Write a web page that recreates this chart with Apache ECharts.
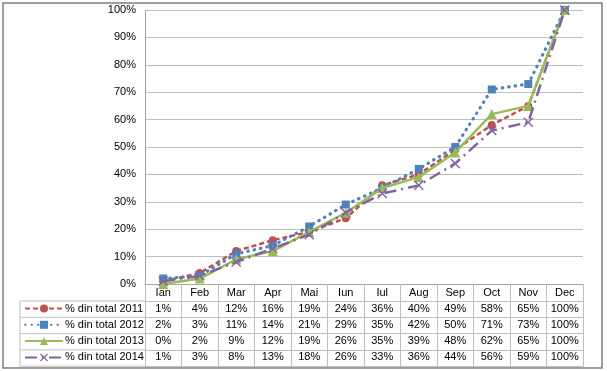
<!DOCTYPE html>
<html><head><meta charset="utf-8">
<script src="https://cdn.jsdelivr.net/npm/echarts@6/dist/echarts.min.js"></script>
<style>html,body{margin:0;padding:0;background:#fff}#c{width:607px;height:371px}</style>
</head><body><div id="c"></div>
<script>
var months = ['Ian','Feb','Mar','Apr','Mai','Iun','Iul','Aug','Sep','Oct','Nov','Dec'];
var names = ['% din total 2011','% din total 2012','% din total 2013','% din total 2014'];
var s2011 = [1,4,12,16,19,24,36,40,49,58,65,100];
var s2012 = [2,3,11,14,21,29,35,42,50,71,73,100];
var s2013 = [0,2,9,12,19,26,35,39,48,62,65,100];
var s2014 = [1,3,8,13,18,26,33,36,44,56,59,100];
var yTicks = [0,10,20,30,40,50,60,70,80,90,100];

var allData = [s2011,s2012,s2013,s2014];
var colors = ['#C0504D','#4F81BD','#9BBB59','#8064A2'];
var lineTypes = [[5,3],[0.5,6],'solid',[12,5,2,5]];
var caps = ['butt','round','butt','butt'];
var xSym = 'path://M0,1L1,0L5,4L9,0L10,1L6,5L10,9L9,10L5,6L1,10L0,9L4,5Z';
var symbols = ['circle','rect','triangle',xSym];
var symSizes = [8,8,10,10];

var W=607,H=371;
var gL=145, gR=583, gT=10, gB=284;
var headH=17, rowH=16.3;
var tableLeft=20;
var tblColor='#BFBFBF';
var font='"Liberation Sans", Arial, sans-serif';

var xAxes = [{
  type:'category', data:months, gridIndex:0, position:'bottom', boundaryGap:true,
  axisLine:{show:true, lineStyle:{color:'#A6A6A6', width:1}},
  axisTick:{show:true, alignWithLabel:false, interval:0, length:headH+rowH*4, lineStyle:{color:tblColor}},
  axisLabel:{show:true, interval:0, margin:3, color:'#000', fontFamily:font, fontSize:11}
}];
for (var k=0;k<4;k++){
  (function(k){
    xAxes.push({
      type:'category', data:months, gridIndex:0, position:'bottom', offset: headH + rowH*k, boundaryGap:true,
      axisLine:{show:true, lineStyle:{color:tblColor, width:1}},
      axisTick:{show:false}, splitLine:{show:false},
      axisLabel:{show:true, interval:0, margin:2, color:'#000', fontFamily:font, fontSize:11,
        formatter:function(v,i){return allData[k][i]+'%';}}
    });
  })(k);
}
xAxes.push({type:'category', data:months, gridIndex:0, position:'bottom', offset: headH+rowH*4,
  axisLine:{show:true, lineStyle:{color:tblColor}}, axisTick:{show:false}, axisLabel:{show:false}});

var series = names.map(function(n,i){
  return {name:n, type:'line', xAxisIndex:0, yAxisIndex:0, data:allData[i],
    symbol:symbols[i], symbolSize:symSizes[i], showSymbol:true,
    lineStyle:{color:colors[i], width:i===1?3.2:2.5, type:lineTypes[i], cap:caps[i]},
    itemStyle:{color:colors[i]}, emphasis:{disabled:true}, animation:false, z:3+i};
});

var legends = names.map(function(n,i){
  return {data:[n], left:tableLeft+4, top: gB+headH+rowH*i+2, orient:'horizontal',
    itemWidth:38, itemHeight:10, itemGap:2, padding:0, selectedMode:false,
    textStyle:{color:'#000', fontFamily:font, fontSize:11, padding:[0,0,0,-3]}};
});

var graphics = [
  {type:'rect', shape:{x:3,y:3,width:599,height:365}, style:{fill:'none', stroke:'#7F7F7F', lineWidth:1.5}, z:-1}
];
for (var r=0;r<=4;r++){
  graphics.push({type:'line', shape:{x1:tableLeft, y1:gB+headH+rowH*r, x2:gL, y2:gB+headH+rowH*r},
    style:{stroke:tblColor, lineWidth:1}});
}
graphics.push({type:'line', shape:{x1:tableLeft, y1:gB+headH, x2:tableLeft, y2:gB+headH+rowH*4}, style:{stroke:tblColor, lineWidth:1}});

var chart = echarts.init(document.getElementById('c'), null, {renderer:'canvas'});
chart.setOption({
  animation:false,
  backgroundColor:'#fff',
  grid:{left:gL, right:W-gR, top:gT, bottom:H-gB, containLabel:false},
  xAxis:xAxes,
  yAxis:{type:'value', min:yTicks[0], max:yTicks[yTicks.length-1], interval:10,
    axisLine:{show:true, lineStyle:{color:'#A6A6A6'}}, axisTick:{show:false},
    axisLabel:{formatter:'{value}%', color:'#000', fontFamily:font, fontSize:11, margin:9},
    splitLine:{show:true, lineStyle:{color:'#BFBFBF', width:1}}},
  legend:legends,
  series:series,
  graphic:graphics
});
</script></body></html>
